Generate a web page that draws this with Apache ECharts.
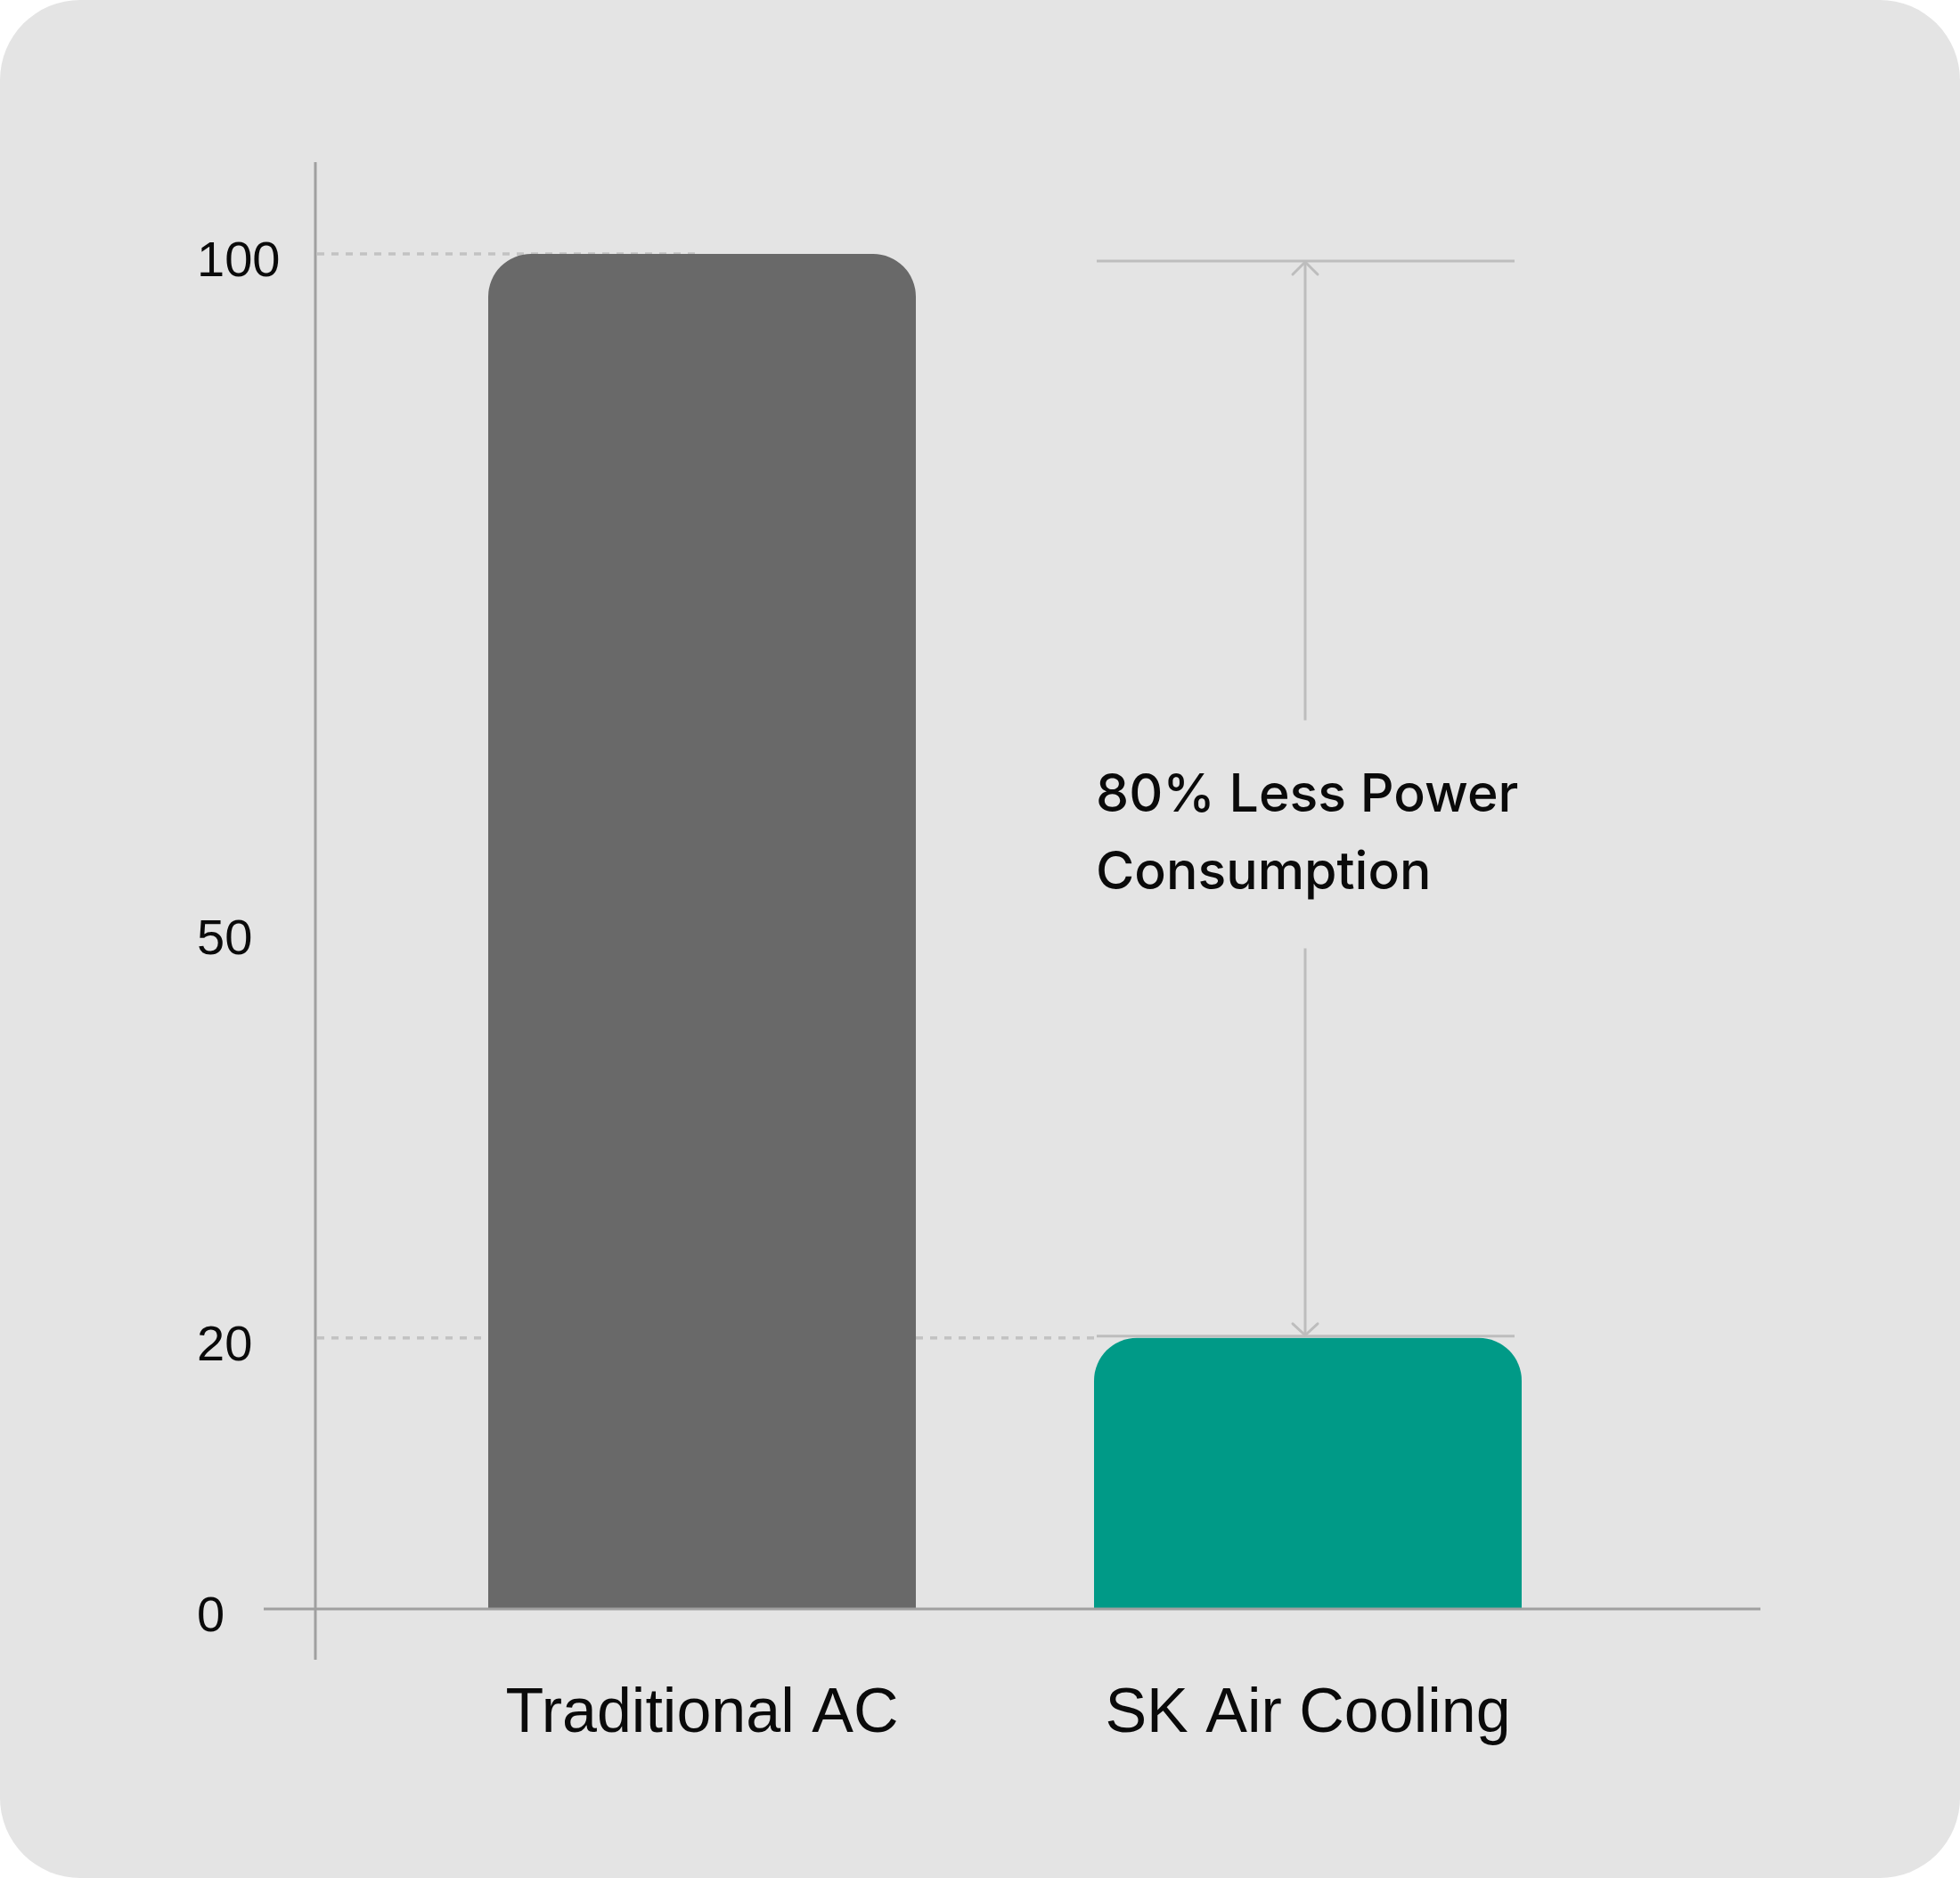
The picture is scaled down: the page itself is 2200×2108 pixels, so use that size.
<!DOCTYPE html>
<html>
<head>
<meta charset="utf-8">
<script src="https://cdn.jsdelivr.net/npm/echarts@6/dist/echarts.min.js"></script>
<style>
  html, body { margin: 0; padding: 0; background: #ffffff; }
  #c { width: 2200px; height: 2108px; background: #e4e4e4; border-radius: 90px; overflow: hidden; }
</style>
</head>
<body>
<div id="c"></div>
<script>
// ---- data ----
const categories = ['Traditional AC', 'SK Air Cooling'];
const powerValues = [100, 20];
const barColors = ['#696969', '#009a87'];
const yTicks = [0, 20, 50, 100];
const guideLevels = [100, 20];
const annotationLines = ['80% Less Power', 'Consumption'];

// ---- styling constants ----
const AXIS_FONT = '"Liberation Sans", Arial, sans-serif';
const NOTE_FONT = 'Inter, "Liberation Sans", sans-serif';
const BAR_WIDTH = 480;
const AXIS_COLOR = '#a0a0a0';
const GUIDE_COLOR = '#c2c2c2';
const BRACKET_COLOR = '#bdbdbd';

const chart = echarts.init(document.getElementById('c'), null, { renderer: 'canvas', width: 2200, height: 2108 });

chart.setOption({
  backgroundColor: 'transparent',
  animation: false,
  grid: { left: 448, right: 392, top: 285, bottom: 302 },
  xAxis: {
    type: 'category',
    data: categories,
    axisLine: { show: false },
    axisTick: { show: false },
    axisLabel: { margin: 84, fontSize: 70, color: '#0a0a0a', fontFamily: AXIS_FONT }
  },
  yAxis: {
    type: 'value',
    min: 0,
    max: 100,
    splitLine: { show: false },
    axisLine: { show: false },
    axisTick: { show: false },
    axisLabel: {
      customValues: yTicks, align: 'left', margin: 227, fontSize: 56,
      color: '#0a0a0a', fontFamily: AXIS_FONT, verticalAlign: 'top', lineHeight: 20
    }
  },
  series: [{
    type: 'bar',
    data: powerValues.map((v, i) => ({ value: v, itemStyle: { color: barColors[i] } })),
    barWidth: BAR_WIDTH,
    itemStyle: { borderRadius: [48, 48, 0, 0] },
    z: 3
  }]
});

// ---- decorations positioned through the chart's own scales ----
const toPx = (ci, v) => chart.convertToPixel({ gridIndex: 0 }, [ci, v]);
const origin = toPx(0, 0);
const yAxisX = origin[0] - BAR_WIDTH / 2 - 194;  // vertical axis sits left of the first bar
const xAxisY = origin[1];
const b0 = toPx(0, powerValues[0]);
const b1 = toPx(1, powerValues[1]);
const bar1Left = b1[0] - BAR_WIDTH / 2;
const bar1Right = b1[0] + BAR_WIDTH / 2;
const yTop = toPx(0, 100)[1];

const g = [];
// axis lines
g.push({ type: 'line', z: 5, shape: { x1: yAxisX, y1: yTop - 103, x2: yAxisX, y2: xAxisY + 57 }, style: { stroke: AXIS_COLOR, lineWidth: 3 } });
g.push({ type: 'line', z: 5, shape: { x1: yAxisX - 58, y1: xAxisY, x2: bar1Right + 268, y2: xAxisY }, style: { stroke: AXIS_COLOR, lineWidth: 3 } });

// dashed guide lines (behind the bars)
guideLevels.forEach((lv) => {
  const y = toPx(0, lv)[1];
  const endX = lv >= powerValues[0] ? b0[0] : bar1Left;
  g.push({ type: 'line', z: 1, shape: { x1: yAxisX + 2, y1: y, x2: endX, y2: y }, style: { stroke: GUIDE_COLOR, lineWidth: 3.5, lineDash: [8, 8] } });
});

// bracket lines for the difference annotation
const topY = toPx(1, powerValues[0])[1] + 8;
const botY = b1[1] - 2;
const ax = b1[0] - 3;
g.push({ type: 'line', z: 5, shape: { x1: bar1Left + 3, y1: topY, x2: bar1Right - 8, y2: topY }, style: { stroke: BRACKET_COLOR, lineWidth: 3 } });
g.push({ type: 'line', z: 5, shape: { x1: bar1Left + 3, y1: botY, x2: bar1Right - 8, y2: botY }, style: { stroke: BRACKET_COLOR, lineWidth: 3 } });

const textCenter = (topY + botY) / 2 + 40;
const gapHalf = 128;
g.push({ type: 'line', z: 5, shape: { x1: ax, y1: topY, x2: ax, y2: textCenter - gapHalf }, style: { stroke: BRACKET_COLOR, lineWidth: 3 } });
g.push({ type: 'line', z: 5, shape: { x1: ax, y1: textCenter + gapHalf, x2: ax, y2: botY }, style: { stroke: BRACKET_COLOR, lineWidth: 3 } });
// chevrons
g.push({ type: 'polyline', z: 5, shape: { points: [[ax - 14, topY + 15], [ax, topY + 1], [ax + 14, topY + 15]] }, style: { stroke: BRACKET_COLOR, lineWidth: 3, fill: null, lineCap: 'round' } });
g.push({ type: 'polyline', z: 5, shape: { points: [[ax - 14, botY - 14], [ax, botY - 1], [ax + 14, botY - 14]] }, style: { stroke: BRACKET_COLOR, lineWidth: 3, fill: null, lineCap: 'round' } });

// annotation text
g.push({
  type: 'text', z: 6,
  style: {
    x: bar1Left + 2, y: textCenter,
    text: annotationLines.join('\n'),
    font: '500 59px ' + NOTE_FONT,
    lineHeight: 87,
    fill: '#0a0a0a',
    align: 'left',
    verticalAlign: 'middle'
  }
});

chart.setOption({ graphic: { elements: g } });
</script>
</body>
</html>
